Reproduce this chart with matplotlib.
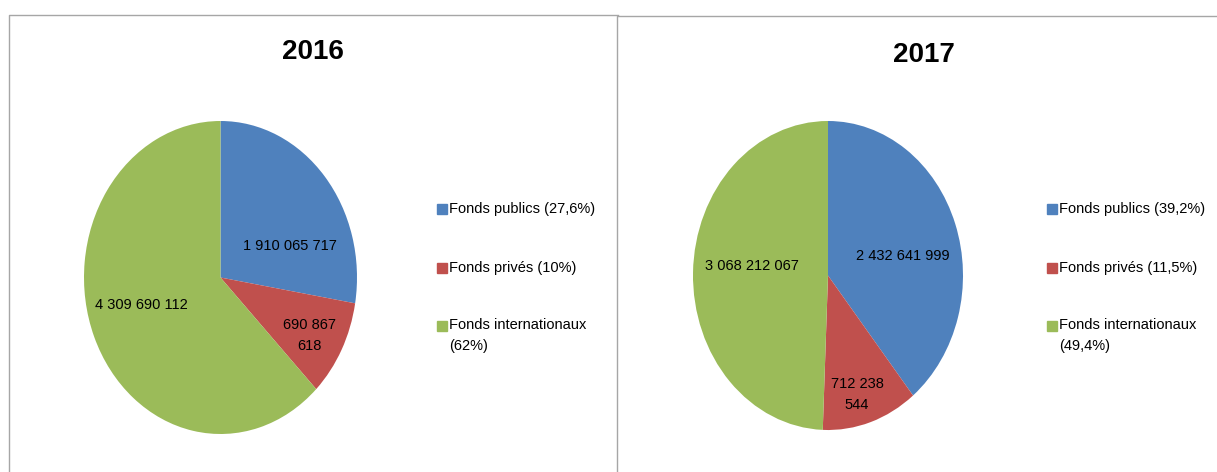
import matplotlib
matplotlib.use('Agg')
import matplotlib.pyplot as plt
from matplotlib.patches import Rectangle
from matplotlib.lines import Line2D

plt.rcParams['font.family'] = ['Liberation Sans', 'DejaVu Sans']

years = ["2016", "2017"]
categories = ["Fonds publics", "Fonds privés", "Fonds internationaux"]
values_2016 = [1910065717, 690867618, 4309690112]
values_2017 = [2432641999, 712238544, 3068212067]
shares_2016 = ["27,6%", "10%", "62%"]
shares_2017 = ["39,2%", "11,5%", "49,4%"]
value_labels_2016 = ["1 910 065 717", "690 867\n618", "4 309 690 112"]
value_labels_2017 = ["2 432 641 999", "712 238\n544", "3 068 212 067"]

colors = ["#4F81BD", "#C0504D", "#9BBB59"]
W, H = 1217, 472

# label spots inside each pie (fraction of radius), Excel "best fit" style
label_pos_2016 = [(0.51, 0.20), (0.65, -0.37), (-0.58, -0.175)]
label_pos_2017 = [(0.556, 0.126), (0.215, -0.77), (-0.56, 0.06)]


def px_box(x0, y0, x1, y1):
    # pixel box (top-left origin) -> figure fraction [l, b, w, h]
    return [x0 / W, (H - y1) / H, (x1 - x0) / W, (y1 - y0) / H]


def fig_line(fig, xs, ys, color):
    fig.lines.append(Line2D([x / W for x in xs], [1 - y / H for y in ys],
                            transform=fig.transFigure, color=color, lw=1.0))


def draw_panel(fig, pie_box, values, value_labels, label_pos, shares, title, title_xy, legend_x):
    ax = fig.add_axes(px_box(*pie_box))
    ax.pie(values, colors=colors, startangle=90, counterclock=False,
           wedgeprops=dict(linewidth=0))
    ax.set_aspect('auto')
    ax.set_xlim(-1, 1)
    ax.set_ylim(-1, 1)
    ax.axis('off')
    for txt, (x, y) in zip(value_labels, label_pos):
        ax.text(x, y, txt, ha='center', va='center', fontsize=10.5,
                linespacing=1.6, color='black')

    fig.text(title_xy[0] / W, 1 - title_xy[1] / H, title, ha='center', va='center',
             fontsize=20, fontweight='bold')

    # legend entries
    legend_rows = [209, 268, 326]
    for i, (cat, share) in enumerate(zip(categories, shares)):
        y = legend_rows[i]
        fig.patches.append(Rectangle((legend_x / W, 1 - (y + 5) / H), 10 / W, 10 / H,
                                     transform=fig.transFigure, color=colors[i]))
        if i == 2:
            label = cat + "\n(" + share + ")"
            fig.text((legend_x + 12) / W, 1 - (y - 8) / H, label, ha='left', va='top',
                     fontsize=10.5, linespacing=1.6)
        else:
            fig.text((legend_x + 12) / W, 1 - y / H, cat + " (" + share + ")",
                     ha='left', va='center', fontsize=10.5)


fig = plt.figure(figsize=(W / 100, H / 100), dpi=100)

# panel borders (left panel's right edge is hidden by the right panel)
border = "#A6A6A6"
fig_line(fig, [8.5, 8.5, 618], [H, 15, 15], border)
fig_line(fig, [616.5, 616.5, W], [H, 16, 16], border)

draw_panel(fig, (84, 121, 357, 434), values_2016, value_labels_2016, label_pos_2016,
           shares_2016, years[0], (313, 52), 437)
draw_panel(fig, (693, 121, 963, 430), values_2017, value_labels_2017, label_pos_2017,
           shares_2017, years[1], (924, 55), 1047)

fig.savefig("out.png", dpi=100)
